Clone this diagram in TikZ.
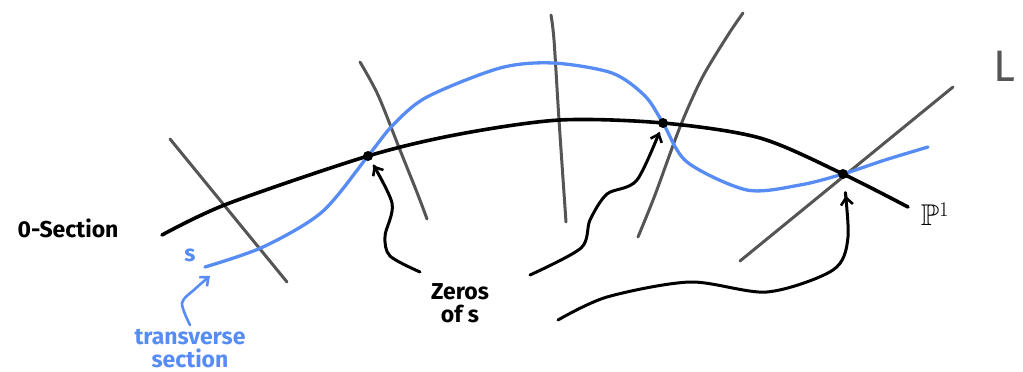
\documentclass[tikz,border=0pt]{standalone}
\usepackage{amsmath}
\usepackage{amssymb}
\usepackage{fontspec}
\setmainfont{Fira Sans}
\usetikzlibrary{arrows.meta,positioning}
\definecolor{skblue}{RGB}{88,140,245}
\definecolor{skgray}{RGB}{85,85,85}

\begin{document}
\begin{tikzpicture}[x=1pt,y=-1pt,line cap=round,line join=round,
  fiber/.style={skgray, line width=3pt},
  zerodot/.style={circle, fill=black, inner sep=0pt, minimum size=10pt},
  handarrow/.style={line width=3pt, -{Straight Barb[length=7pt,width=12pt,line width=2.6pt]}},
  lbl/.style={font=\fontsize{23}{25}\selectfont\bfseries, inner sep=0pt}]
  \useasboundingbox (0,0) rectangle (1023,372);
  % Fibres of the bundle
  \draw[fiber] (170,139) -- (287,282);
  \draw[fiber] plot[smooth] coordinates {(360,62) (378,95) (400,150) (418,195) (427,219)};
  \draw[fiber] plot[smooth] coordinates {(551,15) (554,40) (559,120) (566,222)};
  \draw[fiber] plot[smooth] coordinates {(743,13) (728,35) (702,78) (680,127) (655,195) (638,237)};
  \draw[fiber] (953,87) -- (740,261);
  % Zero section
  \draw[line width=3.6pt] plot[smooth] coordinates {(162,235) (227,204) (368,156) (460,134) (560,120) (663,123) (760,138) (843,174) (908,207)};
  % Section s
  \draw[skblue, line width=3.3pt] plot[smooth] coordinates {(205,267) (263,247) (322,212) (368,156) (393,125) (427,97) (500,68) (553,63) (612,73) (645,96) (663,123) (687,162) (747,190) (800,185) (843,174) (885,160) (928,147)};
  % Zeros
  \node[zerodot] (z1) at (368,156) {};
  \node[zerodot] (z2) at (663,123) {};
  \node[zerodot] (z3) at (843,174) {};
  % Labels
  \node[lbl] (zsec) at (68,228) {0-Section};
  \node[lbl, skblue] (sname) at (190,255) {s};
  \node[lbl, skblue] (trans) at (190,337) {transverse};
  \node[lbl, skblue, below=4pt of trans] (transb) {section};
  \node[lbl] (zeros) at (460,292) {Zeros};
  \node[lbl, below=4pt of zeros] (zerosb) {of s};
  \node[font=\fontsize{30}{30}\selectfont] (pone) at (935,214) {$\mathbb{P}^1$};
  \node[skgray, font=\fontsize{44}{44}\selectfont, anchor=west] (lname) at (990,66) {L};
  % Arrows to the zeros
  \coordinate (a1) at (420,272);
  \coordinate (a2) at (530,275);
  \coordinate (a3) at (558,320);
  \coordinate (a4) at (190,325);
  \draw[handarrow, shorten >=11pt] plot[smooth] coordinates {(a1) (390,256) (385,236) (392,203) (z1)};
  \draw[handarrow, shorten >=10pt] plot[smooth] coordinates {(a2) (581,248) (590,220) (607,194) (637,180) (z2)};
  \draw[handarrow, shorten >=22pt] plot[smooth] coordinates {(a3) (607,297) (690,282) (767,292) (833,270) (848,237) (z3)};
  \draw[handarrow, skblue, line width=2.6pt] plot[smooth] coordinates {(a4) (182,303) (195,289) (210,276)};
\end{tikzpicture}
\end{document}
